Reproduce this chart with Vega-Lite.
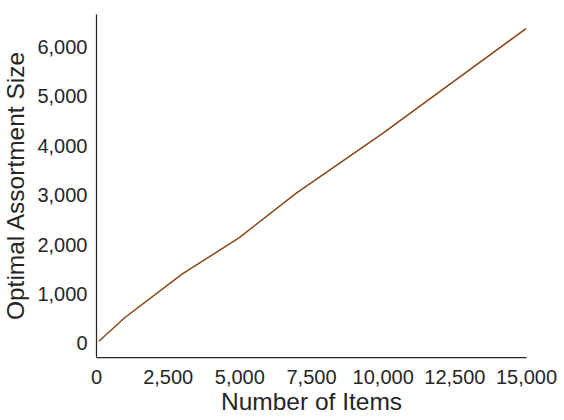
{
  "$schema": "https://vega.github.io/schema/vega-lite/v6.json",
  "width": 430,
  "height": 343,
  "autosize": {"type": "none"},
  "padding": {"left": 96, "top": 14, "right": 38, "bottom": 63},
  "background": "white",
  "config": {
    "view": {"stroke": null},
    "font": "Liberation Sans",
    "axis": {
      "grid": false,
      "ticks": false,
      "domainColor": "#262626",
      "domainWidth": 1.25,
      "labelColor": "#262626",
      "titleColor": "#262626",
      "labelFont": "Liberation Sans",
      "titleFont": "Liberation Sans",
      "labelFontSize": 20,
      "titleFontSize": 24.5,
      "titleFontWeight": "normal"
    }
  },
  "data": {
    "values": [
      {"items": 100, "size": 55},
      {"items": 1000, "size": 530},
      {"items": 3000, "size": 1410},
      {"items": 5000, "size": 2150},
      {"items": 7000, "size": 3055},
      {"items": 10000, "size": 4255},
      {"items": 15000, "size": 6375}
    ]
  },
  "mark": {"type": "line", "color": "#8B4513", "strokeWidth": 1.5},
  "encoding": {
    "x": {
      "field": "items",
      "type": "quantitative",
      "scale": {"domain": [0, 15000], "nice": false, "zero": false},
      "axis": {"title": "Number of Items", "values": [0, 2500, 5000, 7500, 10000, 12500, 15000], "format": ",d", "labelPadding": 10, "titlePadding": 3, "labelFlush": false}
    },
    "y": {
      "field": "size",
      "type": "quantitative",
      "scale": {"domain": [-263, 6670], "nice": false, "zero": false},
      "axis": {"title": "Optimal Assortment Size", "values": [0, 1000, 2000, 3000, 4000, 5000, 6000], "format": ",d", "labelPadding": 9, "titlePadding": 8}
    }
  }
}
